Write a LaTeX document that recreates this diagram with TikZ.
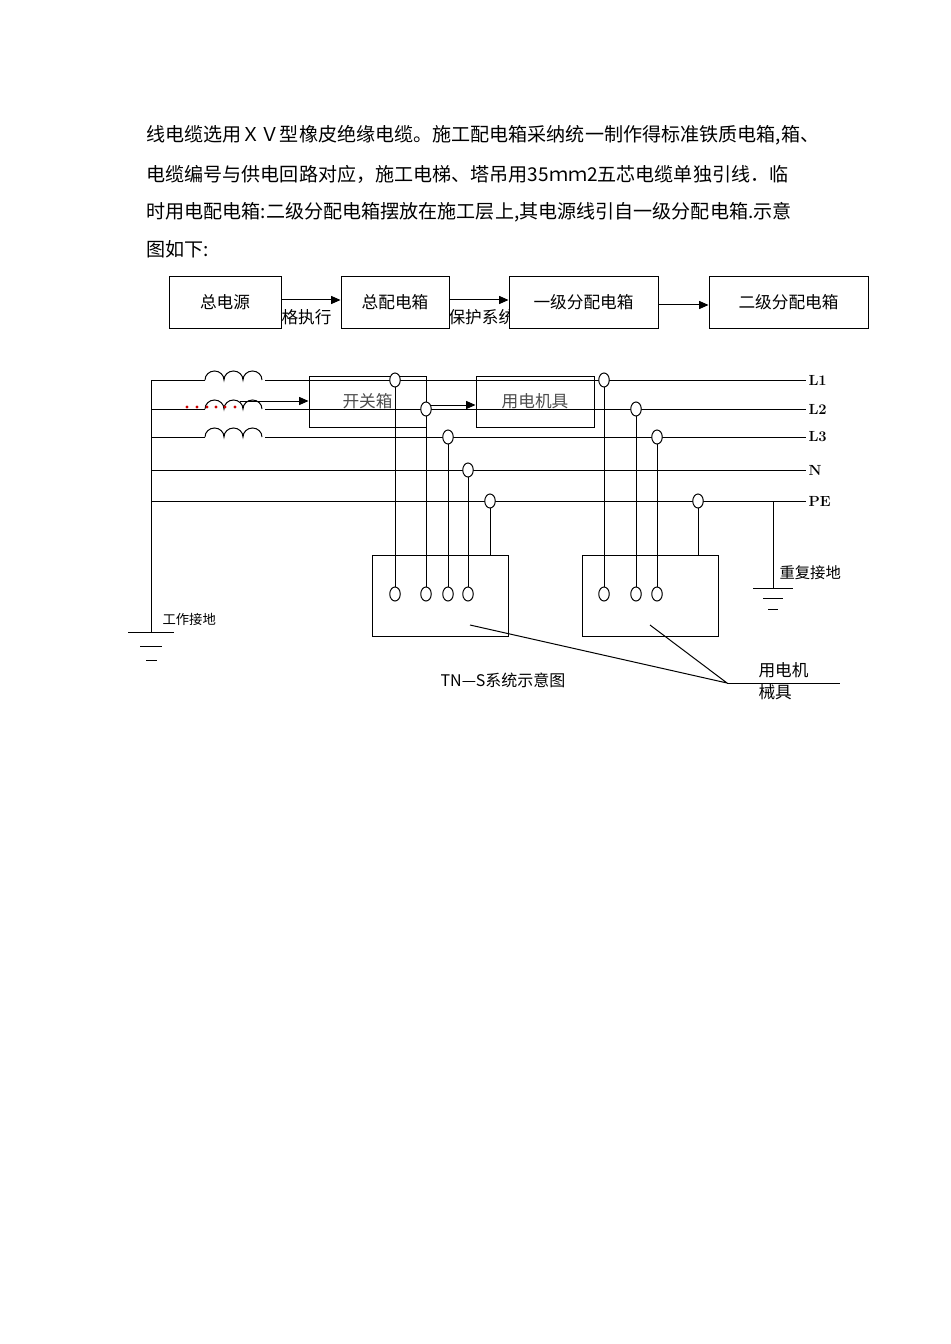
\documentclass[tikz,border=0pt]{standalone}
\usepackage{fontspec}
\newfontfamily\cjk{Noto Sans CJK SC}
\usetikzlibrary{arrows.meta,shapes.geometric}
\begin{document}
\begin{tikzpicture}[x=0.75pt,y=-0.75pt,line width=0.75pt,
  bx/.style={draw,fill=white},
  cir/.style={draw,fill=white,ellipse,inner sep=0pt,minimum width=10.5pt*0.75,minimum height=14pt*0.75},
  arr/.style={-{Triangle[length=7pt,width=6pt]}},
  para/.style={anchor=west,inner sep=0pt,font=\cjk\fontsize{14.3}{17}\selectfont},
  lab/.style={inner sep=0pt,font=\cjk\fontsize{12.5}{15}\selectfont},
  sml/.style={inner sep=0pt,font=\cjk\fontsize{10}{12}\selectfont},
  bl/.style={anchor=west,inner sep=0pt,font=\bfseries\fontsize{11}{13}\selectfont}]
\useasboundingbox[fill=white] (0,0) rectangle (950,1344);
\node[para] (p1) at (146,135) {线电缆选用ＸＶ型橡皮绝缘电缆。施工配电箱采纳统一制作得标准铁质电箱,箱、};
\node[para] (p2) at (146,174) {电缆编号与供电回路对应，施工电梯、塔吊用35ｍｍ2五芯电缆单独引线．临};
\node[para] (p3) at (146,212) {时用电配电箱:二级分配电箱摆放在施工层上,其电源线引自一级分配电箱.示意};
\node[para] (p4) at (146,249) {图如下:};
% hidden texts
\node[lab,anchor=west] (h1) at (281,317) {格执行};
\node[lab,anchor=west] (h2) at (448,317) {保护系统};
% top boxes
\node[bx,minimum width=112*0.75pt,minimum height=51*0.75pt,lab] (b1) at (225,302.5) {总电源};
\node[bx,minimum width=108*0.75pt,minimum height=51*0.75pt,lab] (b2) at (395,302.5) {总配电箱};
\node[bx,minimum width=149*0.75pt,minimum height=51*0.75pt,lab] (b3) at (583.5,302.5) {一级分配电箱};
\node[bx,minimum width=159*0.75pt,minimum height=51*0.75pt,lab] (b4) at (788.5,302.5) {二级分配电箱};
\draw[arr] (b1.east |- 0,300) -- (b2.west |- 0,300);
\draw[arr] (b2.east |- 0,300) -- (b3.west |- 0,300);
\draw[arr] (b3.east |- 0,305) -- (b4.west |- 0,305);
% bus lines
\coordinate (g0) at (151,632);
\draw (151,380) -- (g0);
\foreach \y/\n in {380/L1,409/L2,437/L3,470/N,501/PE}{
  \draw (151,\y) -- (806,\y);
  \node[bl] (lab\n) at (808,\y) {\n};
}
% coils
\foreach \y in {380,409,437}{
  \draw[fill=white,draw=white] (205,\y-1) rectangle (264,\y+1);
  \draw (205,\y) arc(180:360:9.5 and 9) arc(180:360:9.5 and 9) arc(180:360:9.5 and 9);
}
\foreach \x in {187,197,207,216,225,235}{\fill[red!80!black] (\x,407) circle (1.6);}
% boxes
\node[draw,minimum width=117*0.75pt,minimum height=51*0.75pt,lab,text=black!70] (kg) at (367.5,401.5) {开关箱};
\node[draw,minimum width=118*0.75pt,minimum height=51*0.75pt,lab,text=black!70] (yd) at (535,401.5) {用电机具};
\draw[arr] (240,401) -- (kg.west |- 0,401);
\draw[arr] (kg.east |- 0,405) -- (yd.west |- 0,405);
% machine boxes
\draw (372,555) rectangle (508,636);
\draw (582,555) rectangle (718,636);
% taps
\foreach \x/\y/\n in {395/380/a1,426/409/a2,448/437/a3,468/470/a4,604/380/c1,636/409/c2,657/437/c3}{
  \draw (\x,\y) -- (\x,594);
  \node[cir] (\n) at (\x,\y) {};
  \node[cir] (\n b) at (\x,594) {};
}
\foreach \x/\n in {490/a5,698/c5}{
  \draw (\x,501) -- (\x,555);
  \node[cir] (\n) at (\x,501) {};
}
% grounds
\draw (128,632) -- (174,632) (140,646) -- (162,646) (146,660) -- (157,660);
\node[sml,anchor=west] (gz) at (162,619) {工作接地};
\draw (773,501) -- (773,588);
\draw (753,588) -- (793,588) (763,598) -- (783,598) (768,609) -- (778,609);
\node[lab,anchor=west,font=\cjk\fontsize{11.5}{14}\selectfont] (cf) at (779,573) {重复接地};
% pointer
\coordinate (pt) at (727,683);
\draw (470,625) -- (pt) -- (650,625);
\draw (pt) -- (840,683);
\node[lab,anchor=west] (m1) at (758,670) {用电机};
\node[lab,anchor=west] (m2) at (758,692) {械具};
\node[lab,font=\cjk\fontsize{12}{14}\selectfont] (tt) at (503,680) {TN—S系统示意图};
\end{tikzpicture}
\end{document}
